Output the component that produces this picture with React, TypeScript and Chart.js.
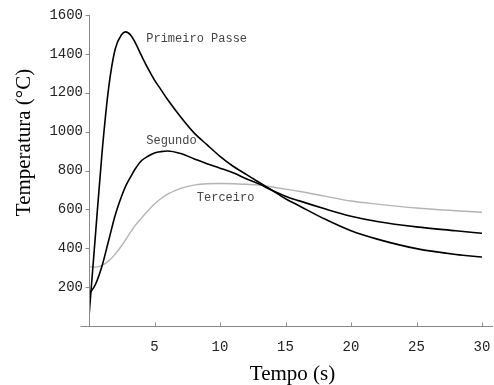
import React, { useEffect, useRef } from "react";
import { Chart, registerables } from "chart.js";

Chart.register(...registerables);

// Time (s)
const tempo = [0, 0.5, 1, 1.5, 2, 2.5, 2.8, 3.2, 3.5, 4, 4.5, 5, 5.5, 6, 7, 8, 9, 10, 11, 12, 13, 14, 15, 16, 18, 20, 22, 25, 28, 30];
// Temperature (°C) for each pass
const primeiroPasse = [50, 475, 895, 1225, 1425, 1500, 1513, 1495, 1462, 1392, 1325, 1265, 1215, 1165, 1075, 995, 933, 873, 822, 780, 738, 697, 655, 620, 550, 490, 447, 398, 368, 355];
const segundo = [163, 215, 310, 440, 570, 670, 720, 770, 805, 850, 873, 890, 897, 900, 887, 861, 835, 812, 788, 758, 730, 697, 668, 645, 603, 565, 538, 510, 490, 477];
const terceiro = [305, 303, 312, 335, 370, 414, 444, 485, 515, 555, 593, 628, 656, 678, 708, 725, 732, 733, 732, 729, 725, 715, 704, 693, 668, 643, 627, 607, 593, 585];

const seriesNames = ["Primeiro Passe", "Segundo", "Terceiro"];
// label anchor positions in data units [t, T]
const labelAnchors = [
  [4.37, 1460],
  [4.37, 936],
  [8.23, 643],
];

const xTitle = "Tempo (s)";
const yTitle = "Temperatura (°C)";

export default function App() {
  const ref = useRef<HTMLCanvasElement | null>(null);

  useEffect(() => {
    document.body.style.margin = "0";
    const canvas = ref.current;
    if (!canvas) return;

    const mk = (vals: number[]) => tempo.map((x, i) => ({ x, y: vals[i] }));

    const decor = {
      id: "decor",
      afterDraw(chart: any) {
        const ctx = chart.ctx;
        const xs = chart.scales.x;
        const ys = chart.scales.y;
        const ca = chart.chartArea;
        ctx.save();
        ctx.strokeStyle = "#8a8a8a";
        ctx.lineWidth = 1;
        const x0 = Math.round(xs.getPixelForValue(0)) + 0.5;
        const y0 = Math.round(ys.getPixelForValue(0)) + 0.5;
        ctx.beginPath();
        ctx.moveTo(x0, ys.getPixelForValue(1600));
        ctx.lineTo(x0, y0);
        ctx.moveTo(x0 - 9, y0);
        ctx.lineTo(chart.width - 1, y0);
        for (let v = 200; v <= 1600; v += 200) {
          const p = Math.round(ys.getPixelForValue(v)) + 0.5;
          ctx.moveTo(x0 - 4, p);
          ctx.lineTo(x0, p);
        }
        for (let v = 5; v <= 30; v += 5) {
          const p = Math.round(xs.getPixelForValue(v)) + 0.5;
          ctx.moveTo(p, y0);
          ctx.lineTo(p, y0 - 4);
        }
        ctx.stroke();

        ctx.fillStyle = "#444";
        ctx.font = "12px 'Liberation Mono'";
        ctx.textAlign = "left";
        ctx.textBaseline = "alphabetic";
        seriesNames.forEach((n, i) => {
          ctx.fillText(n, xs.getPixelForValue(labelAnchors[i][0]), ys.getPixelForValue(labelAnchors[i][1]));
        });

        ctx.fillStyle = "#000";
        ctx.font = "21px 'Liberation Serif'";
        ctx.textAlign = "center";
        ctx.fillText(xTitle, (ca.left + ca.right) / 2 + 7, 380);
        ctx.translate(30, (ca.top + ca.bottom) / 2 - 28);
        ctx.rotate(-Math.PI / 2);
        ctx.fillText(yTitle, 0, 0);
        ctx.restore();
      },
    };

    const chart = new Chart(canvas, {
      type: "line",
      data: {
        datasets: [
          { label: seriesNames[0], data: mk(primeiroPasse), borderColor: "#000", borderWidth: 1.6 },
          { label: seriesNames[1], data: mk(segundo), borderColor: "#000", borderWidth: 1.6 },
          { label: seriesNames[2], data: mk(terceiro), borderColor: "#b4b4b4", borderWidth: 1.4 },
        ],
      },
      options: {
        animation: false,
        responsive: false,
        maintainAspectRatio: false,
        devicePixelRatio: 1,
        layout: { padding: { left: 0, right: 12, top: 15, bottom: 0 } },
        elements: {
          point: { radius: 0 },
          line: { cubicInterpolationMode: "monotone", fill: false },
        },
        plugins: { legend: { display: false }, tooltip: { enabled: false } },
        scales: {
          x: {
            type: "linear",
            min: 0,
            max: 30,
            border: { display: false },
            grid: { display: false, drawTicks: false },
            ticks: {
              stepSize: 5,
              padding: 13,
              color: "#222",
              font: { family: "'Liberation Mono'", size: 14 },
              maxRotation: 0,
              callback: (v: any) => (v === 0 ? "" : String(v)),
            },
            afterFit: (s: any) => {
              s.height = 59;
              s.paddingLeft = 0;
              s.paddingRight = 0;
            },
          },
          y: {
            type: "linear",
            min: 0,
            max: 1600,
            border: { display: false },
            grid: { display: false, drawTicks: false },
            ticks: {
              stepSize: 200,
              padding: 6,
              color: "#222",
              font: { family: "'Liberation Mono'", size: 14 },
              callback: (v: any) => (v === 0 ? "" : String(v)),
            },
            afterFit: (s: any) => {
              s.width = 89;
              s.paddingTop = 0;
              s.paddingBottom = 0;
            },
          },
        },
      },
      plugins: [decor],
    });
    return () => chart.destroy();
  }, []);

  return (
    <div style={{ position: "absolute", left: 0, top: 0, width: 494, height: 385 }}>
      <canvas ref={ref} width={494} height={385} style={{ width: 494, height: 385 }} />
    </div>
  );
}
